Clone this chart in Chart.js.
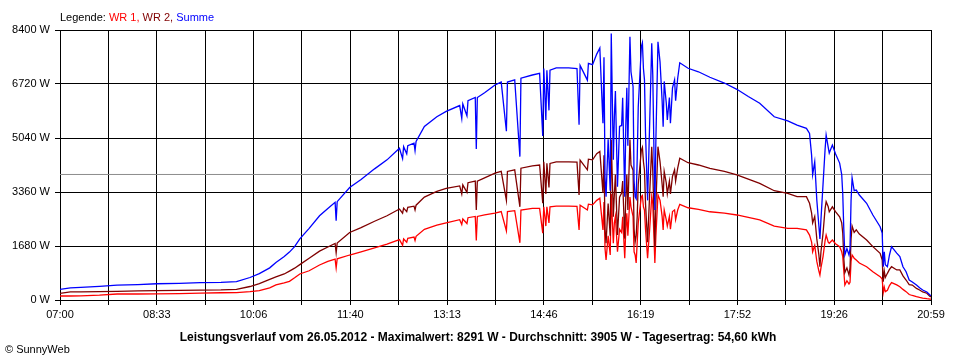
<!DOCTYPE html>
<html>
<head>
<meta charset="utf-8">
<script src="https://cdn.jsdelivr.net/npm/chart.js@4.4.1/dist/chart.umd.min.js"></script>
<style>
  html, body { margin: 0; padding: 0; background: #fff; }
  #wrap { position: relative; width: 960px; height: 360px; font-family: "Liberation Sans", Arial, sans-serif; }
  #powerChart { position: absolute; left: 0; top: 0; }
  .legend { position: absolute; left: 60px; top: 11px; font-size: 11px; line-height: 12px; color: #000; }
  .title { position: absolute; left: 0; width: 956px; top: 331px; text-align: center; font-size: 12px; font-weight: bold; line-height: 12px; }
  .copy { position: absolute; left: 5px; top: 343px; font-size: 11px; line-height: 12px; }
</style>
</head>
<body>
<div id="wrap">
  <canvas id="powerChart" width="960" height="360"></canvas>
  <div class="legend">Legende: <span style="color:#ff0000">WR 1,</span> <span style="color:#800000">WR 2,</span> <span style="color:#0000ff">Summe</span></div>
  <div class="title">Leistungsverlauf vom 26.05.2012 - Maximalwert: 8291 W - Durchschnitt: 3905 W - Tagesertrag: 54,60 kWh</div>
  <div class="copy">&copy; SunnyWeb</div>
</div>
<script>
// -------------------------------
// DATA (26.05.2012)
// -------------------------------
const times = [
  "07:00","07:10","07:20","07:38","07:55","08:15","08:33","08:55","09:15","09:35","09:50",
  "10:03","10:12","10:22","10:28","10:36","10:41","10:46","10:51","11:00","11:10","11:18","11:25","11:26","11:27","11:39","11:50",
  "12:03","12:15","12:27","12:30","12:31","12:34","12:35","12:41","12:42","12:43","12:51","13:03","13:12","13:25","13:27","13:28","13:32","13:33","13:40","13:41","13:42","13:49","13:59",
  "14:05","14:10","14:11","14:18","14:23","14:24","14:35","14:42","14:45","14:46","14:48","14:49","14:51","14:52","14:58","15:10","15:18","15:20","15:21","15:28","15:29","15:33","15:37","15:40","15:43","15:44",
  "15:45","15:46","15:48","15:50","15:51","15:52","15:53","15:54","15:55","15:57","15:59","16:01","16:02","16:04","16:05","16:06","16:07","16:09","16:10","16:12","16:13","16:14","16:15","16:16","16:17","16:20","16:21","16:22","16:23","16:24",
  "16:26","16:28","16:30","16:31","16:33","16:34","16:36","16:38","16:40","16:41","16:42","16:44","16:45","16:47","16:48","16:50","16:52","16:53","16:55","16:57","17:05","17:15","17:26","17:40","17:52",
  "18:03","18:14","18:28","18:41","18:50","18:59","19:02","19:04","19:05","19:07","19:09","19:11","19:12","19:13","19:15","19:17","19:18","19:20","19:21","19:24","19:27","19:31","19:33","19:34","19:35","19:36","19:38","19:40","19:41","19:42","19:43","19:45","19:47","19:50",
  "19:57","20:03","20:10","20:12","20:13","20:14","20:15","20:17","20:19","20:21","20:26","20:29","20:32","20:35","20:38","20:41","20:45","20:48","20:51","20:55","20:58","20:59"
];

const wr1 = [
  124,124,130,150,187,187,190,200,215,225,230,
  260,290,380,470,530,580,690,810,910,1090,1200,1270,1000,1280,1400,1500,
  1620,1740,1880,1700,1900,1800,1920,1960,1850,1980,2200,2330,2400,2500,2350,2520,2380,2560,2600,1850,2600,2650,2700,
  2750,2150,2750,2780,1780,2800,2850,2850,2080,2900,2300,2900,2400,2900,2920,2920,2910,2180,2950,2800,2980,2960,3100,3170,2180,3050,
  1600,1245,2000,1400,3300,2500,1770,2400,2600,1500,2200,2100,2590,1300,2200,2700,2000,3200,2900,2600,1500,1400,1150,1800,2400,3215,3250,2900,2800,2200,
  1300,2200,3215,3000,1150,2000,3270,3100,2600,2180,2800,2490,2300,2600,2200,2750,2800,2500,2800,2975,2870,2820,2745,2700,2645,
  2570,2490,2300,2230,2230,2180,2020,1800,1500,1700,1200,900,777,1000,1350,1850,2020,1800,1765,1865,1750,1660,1500,1350,900,466,600,500,550,1200,1400,1300,1245,1150,
  1035,880,725,650,228,400,260,300,450,540,470,415,330,260,170,140,104,80,60,40,30,30
];

const wr2 = [
  208,250,255,262,270,282,292,300,305,312,330,
  420,510,640,720,810,900,990,1100,1300,1520,1650,1760,1470,1770,2100,2250,
  2450,2620,2830,2700,2860,2750,2880,2920,2800,2950,3200,3380,3470,3550,3300,3580,3350,3650,3700,2800,3700,3800,3950,
  4000,3100,4000,4050,2900,4100,4170,4200,3010,4300,3300,4250,3500,4250,4300,4300,4290,3265,4350,4050,4380,4360,4550,4620,3330,4500,
  2200,1765,3000,2000,4990,3800,2590,3300,3900,2025,3200,3330,3700,1910,3200,3900,2800,4990,4200,4040,2200,1800,2000,2600,3600,4665,4750,4300,4045,3000,
  1800,3300,4770,4000,1650,3000,4770,4300,3600,3215,4000,3640,3300,3700,3300,3850,4050,3700,4100,4410,4270,4200,4095,4000,3890,
  3760,3630,3400,3320,3215,3215,3010,2700,2400,2600,1900,1400,1035,1500,2075,2850,3060,2900,2745,2900,2750,2590,2400,2075,1300,850,1000,777,1000,1900,2300,2100,2180,2050,
  1865,1660,1450,1245,570,900,700,830,950,1035,935,935,750,622,480,466,360,311,250,210,110,100
];

const summe = [
  333,375,395,425,460,480,505,520,540,550,570,
  700,820,1000,1170,1350,1490,1660,1900,2230,2620,2850,3040,2470,3060,3500,3750,
  4080,4360,4720,4400,4770,4550,4800,4880,4650,4930,5400,5700,5870,6050,5650,6100,5730,6200,6300,4700,6300,6450,6690,
  6780,5250,6780,6850,4460,6900,7000,7050,5100,7200,5600,7150,5900,7150,7220,7220,7200,5450,7300,6840,7360,7320,7650,7840,5500,7550,
  3800,3210,5000,3400,8291,6300,4360,5700,6500,3525,5400,5430,6290,3210,5400,6600,4800,8190,7100,6640,3700,3210,3150,4400,6000,7880,8000,7200,6850,5200,
  3100,5500,7990,7000,2800,5000,8035,7400,6200,5390,6800,6130,5600,6300,5500,6600,6850,6200,6900,7380,7210,7100,6930,6750,6555,
  6330,6120,5700,5570,5440,5340,5185,4500,3900,4300,3110,2300,1900,2500,3600,4700,5130,4750,4570,4820,4550,4260,3900,3300,2200,1400,1600,1400,1600,3100,3795,3400,3420,3265,
  3010,2645,2280,2080,1035,1500,1100,1035,1400,1660,1460,1350,1035,880,620,560,466,380,311,250,155,130
];

const xTickLabels = ["07:00","08:33","10:06","11:40","13:13","14:46","16:19","17:52","19:26","20:59"];
const yTickValues = [0, 1680, 3360, 5040, 6720, 8400];
const average = 3905;

// -------------------------------
// HELPERS
// -------------------------------
const toMin = t => { const [h, m] = t.split(":").map(Number); return h * 60 + m; };
const xMin = toMin(xTickLabels[0]);
const xMax = toMin(xTickLabels[xTickLabels.length - 1]);
const gridCount = (xTickLabels.length - 1) * 2; // one unlabeled line between labels

const series = vals => times.map((t, i) => ({ x: toMin(t), y: vals[i] }));

// -------------------------------
// CHART
// -------------------------------
const ctx = document.getElementById("powerChart").getContext("2d");
const axisFont = { family: "'Liberation Sans', Arial, sans-serif", size: 11 };

new Chart(ctx, {
    type: "line",
    data: {
        datasets: [
            { label: "Summe", data: series(summe), borderColor: "#0000ff", order: 0 },
            { label: "WR 2", data: series(wr2), borderColor: "#800000", order: 1 },
            { label: "WR 1", data: series(wr1), borderColor: "#ff0000", order: 2 },
            { label: "Durchschnitt", data: [{ x: xMin, y: average }, { x: xMax, y: average }], borderColor: "#8c8c8c", borderWidth: 1, order: 3 }
        ]
    },
    options: {
        responsive: false,
        animation: false,
        devicePixelRatio: 1,
        layout: { padding: { top: 30, right: 29, left: 0, bottom: 0 } },
        elements: { line: { borderWidth: 1.3, tension: 0, fill: false }, point: { radius: 0 } },
        plugins: { legend: { display: false }, tooltip: { enabled: false }, title: { display: false } },
        scales: {
            x: {
                type: "linear",
                min: xMin,
                max: xMax,
                afterBuildTicks: scale => {
                    const step = (xMax - xMin) / gridCount;
                    scale.ticks = Array.from({ length: gridCount + 1 }, (_, i) => ({ value: xMin + i * step }));
                },
                afterFit: scale => { scale.height = 60; },
                grid: { color: "#000", lineWidth: 1, tickLength: 5, tickColor: "#000" },
                border: { color: "#000" },
                ticks: {
                    autoSkip: false, maxRotation: 0, padding: 3, color: "#000", font: axisFont,
                    callback: (v, i) => (i % 2 === 0 ? xTickLabels[i / 2] : "")
                }
            },
            y: {
                min: 0,
                max: 8400,
                afterBuildTicks: scale => { scale.ticks = yTickValues.map(v => ({ value: v })); },
                afterFit: scale => { scale.width = 60; },
                grid: { color: "#000", lineWidth: 1, tickLength: 5, tickColor: "#000" },
                border: { color: "#000" },
                ticks: { padding: 5, color: "#000", font: axisFont, callback: v => v + " W" }
            }
        }
    }
});
</script>
</body>
</html>
